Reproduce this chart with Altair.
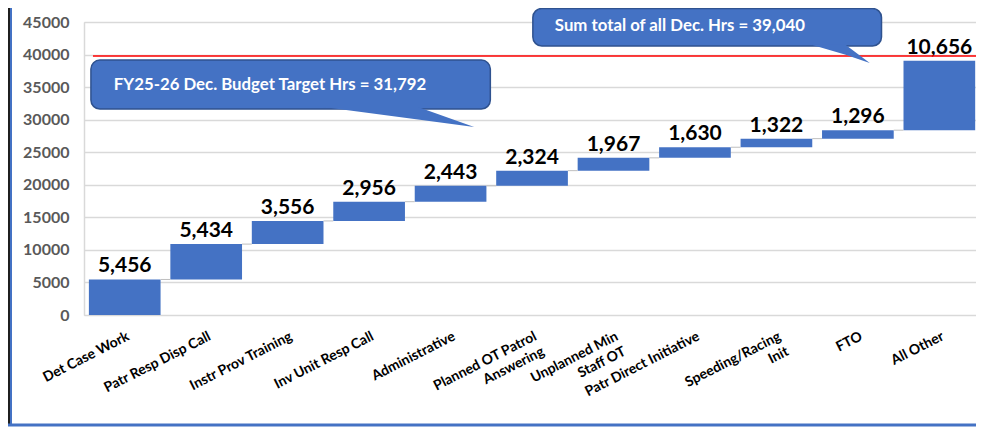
import altair as alt
import pandas as pd

categories = ["Det Case Work", "Patr Resp Disp Call", "Instr Prov Training", "Inv Unit Resp Call",
              "Administrative", "Planned OT Patrol|Answering", "Unplanned Min|Staff OT",
              "Patr Direct Initiative", "Speeding/Racing|Init", "FTO", "All Other"]
values = [5456, 5434, 3556, 2956, 2443, 2324, 1967, 1630, 1322, 1296, 10656]
y_ticks = [0, 5000, 10000, 15000, 20000, 25000, 30000, 35000, 40000, 45000]
red_line_value = 39790
callout_texts = ["FY25-26 Dec. Budget Target Hrs = 31,792", "Sum total of all Dec. Hrs = 39,040"]

BLUE = "#4472C4"
DARK = "#2F528F"
FONT = "Lato"

n = len(values)
idx = list(range(n))
ends = pd.Series(values).cumsum().tolist()
starts = [e - v for e, v in zip(ends, values)]

bars = pd.DataFrame({"i": idx, "start": starts, "end": ends, "value": values})
bars["x0"] = bars["i"] - 0.44
bars["x1"] = bars["i"] + 0.44

conn = pd.DataFrame({"x0": [i + 0.44 for i in idx[:-1]],
                     "x1": [i + 0.56 for i in idx[:-1]],
                     "y": ends[:-1]})

xscale = alt.Scale(domain=[-0.5, 10.45], nice=False, zero=False)
yscale = alt.Scale(domain=[0, 45000], nice=False)

label_array = "[" + ",".join("'" + c + "'" for c in categories) + "]"

AX_X = alt.Axis(
    values=idx, labelExpr="split(" + label_array + "[datum.value], '|')",
    grid=False, domain=False, ticks=False, labelAngle=-27, labelAlign="right",
    labelBaseline="top", labelFont=FONT, labelFontWeight="bold", labelFontSize=14,
    labelColor="#000000", labelPadding=14, labelLineHeight=17, title=None,
    labelOverlap=False, labelBound=False, labelFlush=False)
AX_Y = alt.Axis(
    values=y_ticks, format="d", grid=True, gridColor="#d9d9d9", gridWidth=1.5,
    domain=True, domainColor="#d9d9d9", domainWidth=1.5, ticks=False,
    labelFont=FONT, labelFontWeight="bold", labelFontSize=16, labelColor="#595959",
    labelPadding=15, title=None, labelOverlap=False, labelBound=False, labelFlush=False)


def X(field):
    return alt.X(field, scale=xscale, axis=AX_X)


def Y(field):
    return alt.Y(field, scale=yscale, axis=AX_Y)


base = alt.Chart(bars)

bar_layer = base.mark_rect(color=BLUE).encode(
    x=X("x0:Q"), x2="x1:Q", y=Y("start:Q"), y2="end:Q")

conn_layer = alt.Chart(conn).mark_rule(color="#bfbfbf", strokeWidth=1).encode(
    x=X("x0:Q"), x2="x1:Q", y=Y("y:Q"))

labels_layer = base.mark_text(font=FONT, fontWeight="bold", fontSize=21, color="#000000",
                              baseline="bottom", dy=-3).encode(
    x=X("i:Q"), y=Y("end:Q"), text=alt.Text("value:Q", format=","))

red_df = pd.DataFrame({"x0": [-0.39], "x1": [10.45], "y": [red_line_value]})
red_layer = alt.Chart(red_df).mark_rule(color="#FF0000", strokeWidth=1.5).encode(
    x=X("x0:Q"), x2="x1:Q", y=Y("y:Q"))

# callout boxes (data units)
boxes = pd.DataFrame({"x0": [-0.415, 5.01], "x1": [4.488, 9.29],
                      "y0": [31640, 41313], "y1": [39160, 47072]})
box_layer = alt.Chart(boxes).mark_rect(fill=BLUE, stroke=DARK, strokeWidth=1.5,
                                       cornerRadius=9).encode(
    x=X("x0:Q"), x2="x1:Q", y=Y("y0:Q"), y2="y1:Q")

tail1 = pd.DataFrame({"x": [2.44, 3.60, 4.29], "ya": [31950, 31950, 28873],
                      "yb": [31950, 30030, 28873]})
tail2 = pd.DataFrame({"x": [8.41, 8.84, 9.146], "ya": [41600, 41600, 38702],
                      "yb": [41600, 40000, 38702]})
tail_layers = [alt.Chart(t).mark_area(color=BLUE, opacity=1, interpolate="linear").encode(
    x=X("x:Q"), y=Y("ya:Q"), y2="yb:Q")
    for t in (tail1, tail2)]

ctext = pd.DataFrame({"x": [-0.134, 5.28], "y": [35323, 44400], "t": callout_texts})
ctext_layer = alt.Chart(ctext).mark_text(font=FONT, fontWeight="bold", fontSize=16.8,
                                         color="#FFFFFF", align="left", baseline="middle").encode(
    x=X("x:Q"), y=Y("y:Q"), text="t:N")

# frame
frame_df = pd.DataFrame({"k": [0]})
frame_left_dark = alt.Chart(frame_df).mark_rule(color="#1f1f1f", strokeWidth=2).encode(
    x=alt.value(-75), y=alt.value(-14), y2=alt.value(404))
frame_left = alt.Chart(frame_df).mark_rule(color=BLUE, strokeWidth=2).encode(
    x=alt.value(-73), y=alt.value(-14), y2=alt.value(404))
frame_bottom = alt.Chart(frame_df).mark_rule(color=BLUE, strokeWidth=3).encode(
    x=alt.value(-76), x2=alt.value(892), y=alt.value(403))

chart = alt.layer(
    bar_layer, conn_layer, labels_layer, red_layer, box_layer, *tail_layers, ctext_layer,
    frame_left_dark, frame_left, frame_bottom,
).properties(
    width=892, height=293,
    autosize=alt.AutoSizeParams(type="none"),
    padding={"left": 76, "top": 14, "right": 0, "bottom": 112},
).configure_view(stroke=None).configure(background="#FFFFFF")

chart.save("out.html", embed_options={"renderer": "svg", "actions": False})
